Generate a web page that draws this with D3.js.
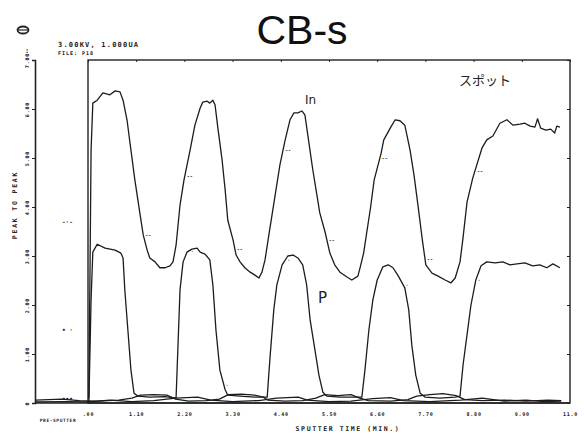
<!DOCTYPE html>
<html>
<head>
<meta charset="utf-8">
<script src="https://cdn.jsdelivr.net/npm/d3@7"></script>
<style>
  body { margin: 0; background: #fff; }
  svg { display: block; }
  .tiny { font-family: "DejaVu Sans Mono", monospace; font-weight: bold; fill: #222; }
</style>
</head>
<body>
<div id="chart"></div>
<script>
// sputter time (min) tick values and labels
var xTicks = [0, 1.1, 2.2, 3.3, 4.4, 5.5, 6.6, 7.7, 8.8, 9.9, 11.0];
var xTickLabels = ['.00', '1.10', '2.20', '3.30', '4.40', '5.50', '6.60', '7.70', '8.80', '9.90', '11.0'];
var yTicks = [0, 1, 2, 3, 4, 5, 6, 7];
var yTickLabels = ['0', '1.00', '2.00', '3.00', '4.00', '5.00', '6.00', '7.00'];

// In signal [time, peak-to-peak]
var inData = [
  [0.02, 0.1], [0.07, 5.16], [0.11, 6.12], [0.21, 6.18], [0.34, 6.33], [0.50, 6.29], [0.62, 6.37],
  [0.73, 6.35], [0.80, 6.18], [0.89, 5.78], [0.98, 5.16], [1.07, 4.55], [1.19, 3.84], [1.26, 3.43],
  [1.35, 3.12], [1.41, 2.96], [1.53, 2.88], [1.64, 2.76], [1.76, 2.76], [1.87, 2.80], [1.94, 2.88],
  [2.01, 3.22], [2.10, 4.04], [2.19, 4.55], [2.33, 5.16], [2.44, 5.67], [2.56, 6.02], [2.62, 6.14],
  [2.72, 6.16], [2.78, 6.12], [2.85, 6.18], [2.90, 6.08], [2.97, 5.57], [3.06, 4.96], [3.13, 4.35],
  [3.19, 3.73], [3.31, 3.33], [3.38, 3.02], [3.47, 2.88], [3.58, 2.76], [3.70, 2.67], [3.81, 2.61],
  [3.90, 2.55], [3.97, 2.67], [4.04, 2.92], [4.11, 3.33], [4.20, 3.84], [4.29, 4.35], [4.38, 4.86],
  [4.50, 5.37], [4.61, 5.78], [4.70, 5.92], [4.79, 5.92], [4.88, 5.96], [4.95, 5.88], [5.00, 5.57],
  [5.13, 4.76], [5.29, 3.88], [5.41, 3.49], [5.52, 3.06], [5.63, 2.82], [5.75, 2.67], [5.91, 2.57],
  [6.02, 2.51], [6.16, 2.59], [6.22, 2.80], [6.29, 3.06], [6.45, 4.00], [6.53, 4.55], [6.69, 5.10],
  [6.75, 5.37], [6.91, 5.63], [7.01, 5.78], [7.12, 5.76], [7.23, 5.67], [7.35, 5.16], [7.44, 4.65],
  [7.53, 4.04], [7.63, 3.33], [7.71, 2.82], [7.85, 2.65], [7.99, 2.59], [8.15, 2.51], [8.28, 2.45],
  [8.38, 2.55], [8.49, 2.88], [8.56, 3.38], [8.65, 4.10], [8.78, 4.59], [8.99, 5.20], [9.10, 5.37],
  [9.24, 5.45], [9.40, 5.71], [9.56, 5.78], [9.70, 5.67], [9.86, 5.69], [9.97, 5.71], [10.09, 5.65],
  [10.20, 5.63], [10.26, 5.80], [10.33, 5.61], [10.45, 5.57], [10.56, 5.59], [10.65, 5.51],
  [10.70, 5.65], [10.77, 5.63]
];

// P signal
var pData = [
  [0.02, 0], [0.07, 2.10], [0.11, 3.08], [0.21, 3.24], [0.39, 3.16], [0.62, 3.12], [0.75, 3.06],
  [0.80, 2.96], [0.84, 2.31], [0.91, 1.49], [0.98, 0.67], [1.05, 0.20], [1.14, 0.14], [1.41, 0.12],
  [1.76, 0.13], [2.01, 0.10], [2.05, 1.08], [2.10, 2.31], [2.17, 2.88], [2.26, 3.08], [2.37, 3.14],
  [2.49, 3.16], [2.56, 3.08], [2.67, 3.04], [2.78, 2.92], [2.85, 2.41], [2.92, 1.49], [3.01, 0.67],
  [3.13, 0.27], [3.19, 0.16], [3.47, 0.14], [3.81, 0.12], [4.09, 0.12], [4.15, 0.88], [4.24, 1.90],
  [4.31, 2.41], [4.43, 2.82], [4.56, 3.00], [4.68, 3.02], [4.79, 2.96], [4.90, 2.82], [4.99, 2.41],
  [5.07, 1.69], [5.18, 1.08], [5.27, 0.57], [5.36, 0.22], [5.45, 0.14], [5.75, 0.12], [6.09, 0.12],
  [6.25, 0.12], [6.32, 0.67], [6.41, 1.49], [6.50, 2.10], [6.60, 2.51], [6.73, 2.78], [6.85, 2.82],
  [6.96, 2.76], [7.07, 2.61], [7.23, 2.35], [7.32, 1.90], [7.39, 1.18], [7.48, 0.57], [7.58, 0.20],
  [7.69, 0.12], [8.03, 0.10], [8.38, 0.12], [8.49, 0.14], [8.56, 0.78], [8.65, 1.39], [8.74, 2.00],
  [8.85, 2.51], [8.97, 2.80], [9.10, 2.88], [9.29, 2.86], [9.47, 2.88], [9.63, 2.82], [9.79, 2.84],
  [9.97, 2.86], [10.15, 2.80], [10.31, 2.82], [10.47, 2.76], [10.61, 2.84], [10.77, 2.76]
];

// two weak traces near the baseline (pre-sputter part has negative time)
var lowA = [
  [-1.2, 0.06], [-0.6, 0.08], [-0.2, 0.05], [0.2, 0.04], [0.7, 0.06], [1.0, 0.10], [1.2, 0.16],
  [1.5, 0.17], [1.8, 0.16], [2.0, 0.08], [2.3, 0.04], [2.7, 0.05], [3.0, 0.08], [3.2, 0.17],
  [3.5, 0.18], [3.8, 0.16], [4.0, 0.12], [4.1, 0.06], [4.5, 0.04], [4.9, 0.05], [5.2, 0.10],
  [5.4, 0.17], [5.7, 0.15], [6.0, 0.17], [6.2, 0.10], [6.4, 0.05], [6.9, 0.04], [7.3, 0.07],
  [7.5, 0.14], [7.8, 0.17], [8.1, 0.19], [8.4, 0.15], [8.6, 0.07], [9.0, 0.05], [9.5, 0.06],
  [10.0, 0.04], [10.5, 0.06], [10.8, 0.05]
];
var lowB = [
  [-1.2, 0.02], [-0.5, 0.03], [0, 0.02], [0.5, 0.06], [1.0, 0.03], [1.5, 0.05], [2.0, 0.10],
  [2.5, 0.12], [2.8, 0.06], [3.3, 0.03], [3.9, 0.05], [4.3, 0.10], [4.8, 0.12], [5.0, 0.06],
  [5.5, 0.03], [6.0, 0.04], [6.5, 0.09], [6.9, 0.11], [7.2, 0.05], [7.8, 0.03], [8.5, 0.06],
  [9.0, 0.10], [9.5, 0.04], [10.0, 0.06], [10.4, 0.03], [10.8, 0.04]
];

// little identifier marks the plotter printed along each trace
var inMarks = [1.26, 2.21, 3.35, 4.45, 5.45, 6.66, 7.69, 8.83];
var pMarks = [2.30, 3.10, 4.50, 7.20, 8.85];

var width = 584, height = 438;
var x = d3.scaleLinear().domain([0, 11]).range([88, 570]);
var y = d3.scaleLinear().domain([0, 7]).range([403, 60]);

var svg = d3.select('#chart').append('svg')
    .attr('width', width)
    .attr('height', height);

// title
svg.append('text')
    .attr('x', 302).attr('y', 44)
    .attr('text-anchor', 'middle')
    .style('font-family', 'Liberation Sans, Arial, sans-serif')
    .style('font-size', '41px')
    .style('fill', '#111')
    .text('CB-s');

// header bits top-left
svg.append('ellipse').attr('cx', 23).attr('cy', 30).attr('rx', 5.5).attr('ry', 3.5)
    .style('fill', 'none').style('stroke', '#222').style('stroke-width', 1.8);
svg.append('line').attr('x1', 18).attr('x2', 28).attr('y1', 30).attr('y2', 30)
    .style('stroke', '#222').style('stroke-width', 1.2);
svg.append('text').attr('class', 'tiny').attr('x', 58).attr('y', 47)
    .style('font-size', '7px').style('letter-spacing', '1.2px').text('3.00KV, 1.000UA');
svg.append('text').attr('class', 'tiny').attr('x', 58).attr('y', 55)
    .style('font-size', '5px').style('letter-spacing', '1px').text('FILE: P18');
svg.append('text').attr('class', 'tiny').attr('x', 27).attr('y', 53)
    .attr('text-anchor', 'middle').style('font-size', '7px').text(':');

// frame
svg.append('rect')
    .attr('x', x(0)).attr('y', y(7))
    .attr('width', x(11) - x(0)).attr('height', y(0) - y(7))
    .style('fill', 'none').style('stroke', '#222').style('stroke-width', 1.4);

// left outer axis with rotated labels
var yAxis = d3.axisLeft(y).tickValues(yTicks).tickSize(3)
    .tickFormat(function (d, i) { return yTickLabels[i]; });
var gy = svg.append('g').attr('transform', 'translate(35,0)').call(yAxis);
gy.select('.domain').style('stroke', '#222').style('stroke-width', 1.6);
gy.selectAll('.tick line').style('stroke', '#222');
gy.selectAll('.tick text')
    .attr('class', 'tiny')
    .attr('x', 0).attr('dy', 0)
    .attr('transform', 'translate(-6,0) rotate(-90)')
    .attr('text-anchor', 'middle')
    .style('font-size', '5px')
    .style('letter-spacing', '0.8px');

// bottom axis runs from the pre-sputter start to the frame end
svg.append('line')
    .attr('x1', 35).attr('x2', x(11)).attr('y1', y(0)).attr('y2', y(0))
    .style('stroke', '#222').style('stroke-width', 1.6);
var xAxis = d3.axisBottom(x).tickValues(xTicks).tickSize(0)
    .tickFormat(function (d, i) { return xTickLabels[i]; });
var gx = svg.append('g').attr('transform', 'translate(0,' + y(0) + ')').call(xAxis);
gx.select('.domain').remove();
gx.selectAll('.tick text')
    .attr('class', 'tiny')
    .attr('y', 9)
    .style('font-size', '5px')
    .style('letter-spacing', '0.8px');

// small ticks on the inner frame top and right
var gTop = svg.append('g').attr('transform', 'translate(0,' + y(7) + ')')
    .call(d3.axisBottom(x).tickValues(xTicks).tickSize(2).tickFormat(''));
gTop.select('.domain').remove();
var gRight = svg.append('g').attr('transform', 'translate(' + x(11) + ',0)')
    .call(d3.axisLeft(y).tickValues(yTicks).tickSize(3).tickFormat(''));
gRight.select('.domain').remove();
svg.selectAll('.tick line').style('stroke', '#222');

svg.append('text').attr('class', 'tiny').attr('x', 58).attr('y', 422)
    .attr('text-anchor', 'middle').style('font-size', '4.5px').style('letter-spacing', '0.6px')
    .text('PRE-SPUTTER');
svg.append('text').attr('class', 'tiny').attr('x', 348).attr('y', 431)
    .attr('text-anchor', 'middle').style('font-size', '6.5px').style('letter-spacing', '1.6px')
    .text('SPUTTER TIME (MIN.)');
svg.append('text').attr('class', 'tiny')
    .attr('transform', 'translate(17,205) rotate(-90)')
    .attr('text-anchor', 'middle').style('font-size', '6.5px').style('letter-spacing', '1.8px')
    .text('PEAK TO PEAK');

// legend marks left of the frame
svg.append('text').attr('class', 'tiny').attr('x', 62).attr('y', 224).style('font-size', '6px').text('\u2010\u00b7\u2010');
svg.append('text').attr('class', 'tiny').attr('x', 62).attr('y', 332).style('font-size', '6px').text('\u2022 \u00b7');
svg.append('text').attr('class', 'tiny').attr('x', 62).attr('y', 401).style('font-size', '6px').text('\u2022\u2022\u2022');

// traces
var line = d3.line()
    .x(function (d) { return x(d[0]); })
    .y(function (d) { return y(d[1]); });

[lowB, lowA, pData, inData].forEach(function (data) {
    svg.append('path')
        .datum(data)
        .attr('d', line)
        .style('fill', 'none')
        .style('stroke', '#1c1c1c')
        .style('stroke-width', 1.3)
        .style('stroke-linejoin', 'round');
});

// identifier marks: small dashes placed on the trace at given times
function valueAt(data, t) {
    var i = d3.bisector(function (d) { return d[0]; }).left(data, t);
    var a = data[Math.max(0, i - 1)], b = data[Math.min(data.length - 1, i)];
    if (b[0] === a[0]) return a[1];
    return a[1] + (b[1] - a[1]) * (t - a[0]) / (b[0] - a[0]);
}
function addMarks(data, times, glyph) {
    svg.selectAll(null)
        .data(times)
        .enter()
        .append('text')
        .attr('class', 'tiny')
        .attr('x', function (t) { return x(t) + 2; })
        .attr('y', function (t) { return y(valueAt(data, t)) + 2; })
        .style('font-size', '5px')
        .text(glyph);
}
addMarks(inData, inMarks, '\u2010\u2010');
addMarks(pData, pMarks, '\u00b7');

// labels
svg.append('text').attr('x', 305).attr('y', 104)
    .style('font-family', 'DejaVu Sans').style('font-size', '12px').style('fill', '#222').text('In');
svg.append('text').attr('x', 318).attr('y', 303)
    .style('font-family', 'DejaVu Sans').style('font-size', '15px').style('fill', '#222').text('P');
svg.append('text').attr('x', 459).attr('y', 85)
    .style('font-family', 'Noto Sans CJK JP').style('font-size', '13px').style('fill', '#222').text('スポット');
</script>
</body>
</html>
